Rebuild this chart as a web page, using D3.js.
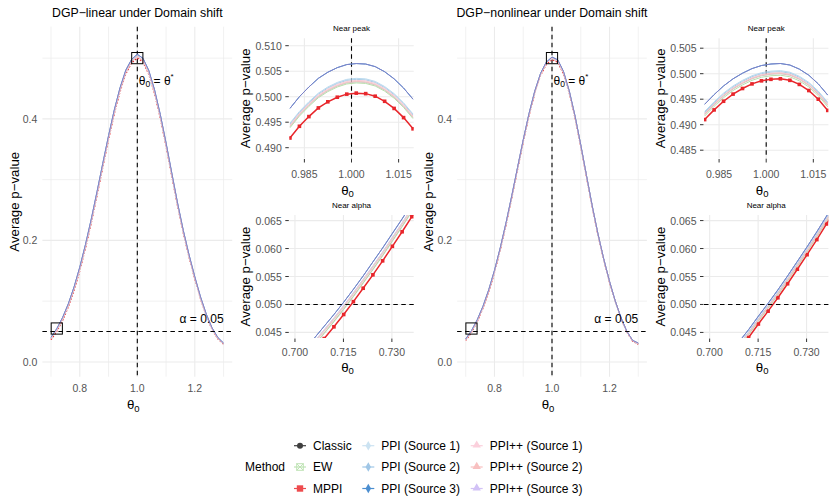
<!DOCTYPE html>
<html lang="en">
<head>
<meta charset="utf-8">
<title>average p-value under domain shift</title>
<script src="https://d3js.org/d3.v7.min.js"></script>
<style>
  body{margin:0;background:#fff;}
  svg text{font-family:"Liberation Sans",Arial,Helvetica,sans-serif;}
</style>
</head>
<body>
<div id="chart"></div>
<script>
// ---- data ----
var methods = ["Classic","EW","MPPI","PPI (Source 1)","PPI (Source 2)","PPI (Source 3)","PPI++ (Source 1)","PPI++ (Source 2)","PPI++ (Source 3)"]

// full range panels (theta0 grid, step 0.02)
var mainTheta = [0.70,0.72,0.74,0.76,0.78,0.80,0.82,0.84,0.86,0.88,0.90,0.92,0.94,0.96,0.98,1.00,1.02,1.04,1.06,1.08,1.10,1.12,1.14,1.16,1.18,1.20,1.22,1.24,1.26,1.28,1.30]
var linMainBundle = [0.0385,0.0525,0.0705,0.0930,0.1205,0.1530,0.1905,0.2320,0.2770,0.3235,0.3690,0.4115,0.4480,0.4770,0.4945,0.5030,0.4960,0.4760,0.4445,0.4040,0.3575,0.3080,0.2590,0.2140,0.1740,0.1380,0.1050,0.0770,0.0545,0.0390,0.0300]
var linMainTop    = [0.0405,0.0547,0.0728,0.0955,0.1232,0.1560,0.1937,0.2353,0.2803,0.3268,0.3722,0.4147,0.4512,0.4802,0.4977,0.5063,0.4995,0.4795,0.4478,0.4072,0.3605,0.3108,0.2616,0.2164,0.1762,0.1400,0.1068,0.0786,0.0559,0.0402,0.0310]
var linMainMPPI   = [0.0365,0.0503,0.0681,0.0905,0.1178,0.1502,0.1876,0.2290,0.2740,0.3205,0.3660,0.4085,0.4450,0.4740,0.4920,0.5004,0.4935,0.4735,0.4420,0.4015,0.3552,0.3058,0.2570,0.2122,0.1724,0.1366,0.1038,0.0760,0.0536,0.0382,0.0293]
var nonMainBundle = [0.0365,0.0500,0.0678,0.0900,0.1170,0.1490,0.1860,0.2270,0.2715,0.3180,0.3640,0.4070,0.4440,0.4730,0.4915,0.4995,0.4950,0.4760,0.4445,0.4035,0.3560,0.3055,0.2555,0.2095,0.1685,0.1320,0.0995,0.0720,0.0500,0.0350,0.0300]
var nonMainTop    = [0.0378,0.0514,0.0693,0.0916,0.1187,0.1508,0.1878,0.2288,0.2733,0.3197,0.3656,0.4086,0.4456,0.4746,0.4933,0.5017,0.4972,0.4780,0.4462,0.4050,0.3573,0.3067,0.2566,0.2105,0.1693,0.1328,0.1002,0.0727,0.0507,0.0356,0.0310]
var nonMainMPPI   = [0.0353,0.0487,0.0664,0.0885,0.1154,0.1473,0.1842,0.2252,0.2697,0.3162,0.3622,0.4052,0.4422,0.4712,0.4897,0.4977,0.4932,0.4742,0.4428,0.4020,0.3546,0.3042,0.2544,0.2086,0.1677,0.1313,0.0989,0.0715,0.0495,0.0344,0.0292]

// near peak (grid points between 0.98 and 1.02)
var peakTheta = [0.98040,0.98342,0.98643,0.98945,0.99246,0.99548,0.99849,1.00151,1.00452,1.00754,1.01055,1.01357,1.01658,1.01960]
var linPeakClassic = [0.4941,0.4964,0.4983,0.5000,0.5012,0.5021,0.5027,0.5029,0.5028,0.5023,0.5013,0.4999,0.4981,0.4959]
var linPeakEW      = [0.4939,0.4962,0.4981,0.4998,0.5010,0.5019,0.5025,0.5027,0.5026,0.5021,0.5011,0.4997,0.4979,0.4957]
var linPeakMPPI    = [0.4919,0.4942,0.4961,0.4978,0.4990,0.4999,0.5005,0.5007,0.5006,0.5001,0.4991,0.4977,0.4959,0.4937]
var linPeakPPI1    = [0.4948,0.4971,0.4990,0.5007,0.5019,0.5028,0.5034,0.5036,0.5035,0.5030,0.5020,0.5006,0.4988,0.4966]
var linPeakPPI2    = [0.4946,0.4969,0.4988,0.5005,0.5017,0.5026,0.5032,0.5034,0.5033,0.5028,0.5018,0.5004,0.4986,0.4964]
var linPeakPPI3    = [0.4977,0.5000,0.5019,0.5036,0.5048,0.5057,0.5063,0.5065,0.5064,0.5059,0.5049,0.5035,0.5017,0.4995]
var linPeakPP1     = [0.4944,0.4967,0.4986,0.5003,0.5015,0.5024,0.5030,0.5032,0.5031,0.5026,0.5016,0.5002,0.4984,0.4962]
var linPeakPP2     = [0.4942,0.4965,0.4984,0.5001,0.5013,0.5022,0.5028,0.5030,0.5029,0.5024,0.5014,0.5000,0.4982,0.4960]
var linPeakPP3     = [0.4977,0.5000,0.5019,0.5036,0.5048,0.5057,0.5063,0.5065,0.5064,0.5059,0.5049,0.5035,0.5017,0.4995]

var nonPeakClassic = [0.4920,0.4939,0.4956,0.4970,0.4981,0.4990,0.4996,0.4999,0.5000,0.4997,0.4989,0.4977,0.4960,0.4938]
var nonPeakEW      = [0.4917,0.4936,0.4953,0.4967,0.4978,0.4987,0.4993,0.4996,0.4997,0.4994,0.4986,0.4974,0.4957,0.4935]
var nonPeakMPPI    = [0.4910,0.4929,0.4946,0.4960,0.4971,0.4980,0.4986,0.4989,0.4990,0.4987,0.4979,0.4967,0.4950,0.4928]
var nonPeakPPI1    = [0.4926,0.4945,0.4962,0.4976,0.4987,0.4996,0.5002,0.5005,0.5006,0.5003,0.4995,0.4983,0.4966,0.4944]
var nonPeakPPI2    = [0.4924,0.4943,0.4960,0.4974,0.4985,0.4994,0.5000,0.5003,0.5004,0.5001,0.4993,0.4981,0.4964,0.4942]
var nonPeakPPI3    = [0.4940,0.4959,0.4976,0.4990,0.5001,0.5010,0.5016,0.5019,0.5020,0.5017,0.5009,0.4997,0.4980,0.4958]
var nonPeakPP1     = [0.4922,0.4941,0.4958,0.4972,0.4983,0.4992,0.4998,0.5001,0.5002,0.4999,0.4991,0.4979,0.4962,0.4940]
var nonPeakPP2     = [0.4921,0.4940,0.4957,0.4971,0.4982,0.4991,0.4997,0.5000,0.5001,0.4998,0.4990,0.4978,0.4961,0.4939]
var nonPeakPP3     = [0.4940,0.4959,0.4976,0.4990,0.5001,0.5010,0.5016,0.5019,0.5020,0.5017,0.5009,0.4997,0.4980,0.4958]

// near alpha (grid points between 0.70 and 0.74)
var alphaTheta = [0.70000,0.70302,0.70603,0.70905,0.71206,0.71508,0.71809,0.72111,0.72412,0.72714,0.73015,0.73317,0.73618,0.73920]
var linAlphaClassic = [0.0387,0.0407,0.0427,0.0448,0.0469,0.0491,0.0514,0.0538,0.0562,0.0587,0.0613,0.0639,0.0666,0.0693]
var linAlphaEW      = [0.0388,0.0408,0.0428,0.0449,0.0470,0.0492,0.0515,0.0539,0.0563,0.0588,0.0614,0.0640,0.0667,0.0694]
var linAlphaMPPI    = [0.0378,0.0398,0.0418,0.0439,0.0460,0.0482,0.0505,0.0529,0.0553,0.0578,0.0604,0.0630,0.0657,0.0684]
var linAlphaPPI1    = [0.0394,0.0414,0.0434,0.0455,0.0476,0.0498,0.0521,0.0545,0.0569,0.0594,0.0620,0.0646,0.0673,0.0700]
var linAlphaPPI2    = [0.0393,0.0413,0.0433,0.0454,0.0475,0.0497,0.0520,0.0544,0.0568,0.0593,0.0619,0.0645,0.0672,0.0699]
var linAlphaPPI3    = [0.0399,0.0419,0.0440,0.0461,0.0482,0.0504,0.0527,0.0551,0.0576,0.0601,0.0627,0.0653,0.0680,0.0708]
var linAlphaPP1     = [0.0393,0.0413,0.0433,0.0454,0.0475,0.0497,0.0520,0.0544,0.0568,0.0593,0.0619,0.0645,0.0672,0.0699]
var linAlphaPP2     = [0.0391,0.0411,0.0431,0.0452,0.0473,0.0495,0.0518,0.0542,0.0566,0.0591,0.0617,0.0643,0.0670,0.0697]
var linAlphaPP3     = [0.0399,0.0419,0.0440,0.0461,0.0482,0.0504,0.0527,0.0551,0.0576,0.0601,0.0627,0.0653,0.0680,0.0708]

var nonAlphaClassic = [0.0363,0.0383,0.0404,0.0425,0.0447,0.0471,0.0494,0.0518,0.0543,0.0569,0.0595,0.0622,0.0650,0.0678]
var nonAlphaEW      = [0.0362,0.0382,0.0403,0.0424,0.0446,0.0470,0.0493,0.0517,0.0542,0.0568,0.0594,0.0621,0.0649,0.0677]
var nonAlphaMPPI    = [0.0357,0.0377,0.0398,0.0419,0.0441,0.0465,0.0488,0.0512,0.0537,0.0563,0.0589,0.0616,0.0644,0.0672]
var nonAlphaPPI1    = [0.0367,0.0387,0.0408,0.0429,0.0451,0.0475,0.0498,0.0522,0.0547,0.0573,0.0599,0.0626,0.0654,0.0682]
var nonAlphaPPI2    = [0.0366,0.0386,0.0407,0.0428,0.0450,0.0474,0.0497,0.0521,0.0546,0.0572,0.0598,0.0625,0.0653,0.0681]
var nonAlphaPPI3    = [0.0371,0.0391,0.0412,0.0433,0.0455,0.0479,0.0502,0.0526,0.0551,0.0577,0.0603,0.0630,0.0658,0.0687]
var nonAlphaPP1     = [0.0365,0.0385,0.0406,0.0427,0.0449,0.0473,0.0496,0.0520,0.0545,0.0571,0.0597,0.0624,0.0652,0.0680]
var nonAlphaPP2     = [0.0364,0.0384,0.0405,0.0426,0.0448,0.0472,0.0495,0.0519,0.0544,0.0570,0.0596,0.0623,0.0651,0.0679]
var nonAlphaPP3     = [0.0371,0.0391,0.0412,0.0433,0.0455,0.0479,0.0502,0.0526,0.0551,0.0577,0.0603,0.0630,0.0658,0.0687]

// tick labels
var mainXTicks = [0.8,1.0,1.2], mainXMinor = [0.7,0.9,1.1,1.3]
var mainYTicks = [0.0,0.2,0.4], mainYMinor = [0.1,0.3,0.5]
var peakXTicks = [0.985,1.000,1.015]
var linPeakYTicks = [0.490,0.495,0.500,0.505,0.510]
var nonPeakYTicks = [0.485,0.490,0.495,0.500,0.505]
var alphaXTicks = [0.700,0.715,0.730]
var alphaYTicks = [0.045,0.050,0.055,0.060,0.065]

// ---- styles ----
var lineColor = {"Classic":"#c4c4c4","EW":"#b8deab","MPPI":"#e8262b","PPI (Source 1)":"#b9d9ef","PPI (Source 2)":"#a9cde6",
  "PPI (Source 3)":"#4a8fd0","PPI++ (Source 1)":"#f7c9d6","PPI++ (Source 2)":"#f2c4c4","PPI++ (Source 3)":"#7f83c8"}
var keyColor = {"Classic":"#3f3f3f","EW":"#bfe3b5","MPPI":"#ee4b4e","PPI (Source 1)":"#cce3f2","PPI (Source 2)":"#9fc6e6",
  "PPI (Source 3)":"#4b8ed0","PPI++ (Source 1)":"#fbd0dc","PPI++ (Source 2)":"#f8c0c0","PPI++ (Source 3)":"#d2c2f6"}
var keyShape = {"Classic":"circle","EW":"boxx","MPPI":"square","PPI (Source 1)":"diamond","PPI (Source 2)":"diamond",
  "PPI (Source 3)":"diamond","PPI++ (Source 1)":"triangle","PPI++ (Source 2)":"triangle","PPI++ (Source 3)":"triangle"}

var w = 834, h = 502
var svg = d3.select("#chart").append("svg").attr("width",w).attr("height",h)
var tickGray = "#555", gridCol = "#ebebeb"
var fmt1 = d3.format(".1f"), fmt3 = d3.format(".3f")

function series(a,b,c,d,e,f,g,hh,k){ return [a,b,c,d,e,f,g,hh,k] }

function drawPanel(p){
  var x = d3.scaleLinear().domain(p.xd).range([p.left,p.right])
  var y = d3.scaleLinear().domain(p.yd).range([p.bottom,p.top])
  var g = svg.append("g")

  // grid
  ;(p.xMinor||[]).forEach(function(v){
    g.append("line").attr("x1",x(v)).attr("x2",x(v)).attr("y1",p.top).attr("y2",p.bottom).attr("stroke",gridCol).attr("stroke-width",0.7)
  })
  ;(p.yMinor||[]).forEach(function(v){
    g.append("line").attr("x1",p.left).attr("x2",p.right).attr("y1",y(v)).attr("y2",y(v)).attr("stroke",gridCol).attr("stroke-width",0.7)
  })
  p.xTicks.forEach(function(v){
    g.append("line").attr("x1",x(v)).attr("x2",x(v)).attr("y1",p.top).attr("y2",p.bottom).attr("stroke",gridCol).attr("stroke-width",1.1)
  })
  p.yTicks.forEach(function(v){
    g.append("line").attr("x1",p.left).attr("x2",p.right).attr("y1",y(v)).attr("y2",y(v)).attr("stroke",gridCol).attr("stroke-width",1.1)
  })

  // tick labels + tick marks
  var fmt = p.fmt
  p.xTicks.forEach(function(v){
    g.append("text").attr("x",x(v)).attr("y",p.bottom + p.xLabOff).attr("text-anchor","middle")
      .attr("dominant-baseline","central").attr("font-size",10.5).attr("fill",tickGray).text(fmt(v))
    if(p.marks) g.append("line").attr("x1",x(v)).attr("x2",x(v)).attr("y1",p.bottom+0.5).attr("y2",p.bottom+4)
      .attr("stroke","#333").attr("stroke-width",1)
  })
  p.yTicks.forEach(function(v){
    g.append("text").attr("x",p.left - p.yLabOff).attr("y",y(v)).attr("text-anchor","end")
      .attr("dominant-baseline","central").attr("font-size",10.5).attr("fill",tickGray).text(fmt(v))
    if(p.marks) g.append("line").attr("x1",p.left-4).attr("x2",p.left-0.5).attr("y1",y(v)).attr("y2",y(v))
      .attr("stroke","#333").attr("stroke-width",1)
  })

  // reference lines
  if(p.vline!=null) g.append("line").attr("x1",x(p.vline)).attr("x2",x(p.vline)).attr("y1",p.top).attr("y2",p.bottom)
    .attr("stroke","#000").attr("stroke-width",1.1).attr("stroke-dasharray","4.5,3.5")

  // curves
  svg.append("clipPath").attr("id",p.id).append("rect")
    .attr("x",p.left).attr("y",p.top).attr("width",p.right-p.left).attr("height",p.bottom-p.top)
  var cg = g.append("g").attr("clip-path","url(#"+p.id+")")
  var line = d3.line().x(function(d,i){ return x(p.theta[i]) }).y(function(d){ return y(d) })
  methods.forEach(function(m,i){
    var vals = p.values[i]
    var isM = m=="MPPI"
    cg.append("path").datum(vals).attr("d",line).attr("fill","none")
      .attr("stroke",lineColor[m]).attr("stroke-width", isM ? (p.main?1.3:1.5) : 1.0)
      .attr("stroke-dasharray", isM && p.main ? "1.6,1.6" : null)
    if(isM && !p.main){
      cg.selectAll(".pt").data(vals).enter().append("rect")
        .attr("x",function(d,j){ return x(p.theta[j])-1.8 }).attr("y",function(d){ return y(d)-1.8 })
        .attr("width",3.6).attr("height",3.6).attr("fill",lineColor[m])
    }
  })

  if(p.hline!=null) g.append("line").attr("x1",p.left).attr("x2",p.right).attr("y1",y(p.hline)).attr("y2",y(p.hline))
    .attr("stroke","#000").attr("stroke-width",1.1).attr("stroke-dasharray","4.5,3.5")

  // titles
  var cx = (p.left+p.right)/2
  g.append("text").attr("x",cx).attr("y",p.titleY).attr("text-anchor","middle").attr("dominant-baseline","central")
    .attr("font-size",p.titleSize).attr("fill","#000").text(p.title)
  var xt = g.append("text").attr("x",cx-4).attr("y",p.xTitleY).attr("text-anchor","middle").attr("dominant-baseline","central")
    .attr("font-size",13.3).attr("fill","#000")
  xt.append("tspan").text("θ")
  xt.append("tspan").attr("dy",3.5).attr("font-size",9.5).text("0")
  g.append("text").attr("transform","translate("+p.yTitleX+","+((p.top+p.bottom)/2)+") rotate(-90)")
    .attr("text-anchor","middle").attr("dominant-baseline","central").attr("font-size",13.3).attr("fill","#000")
    .text("Average p\u2212value")

  return {x:x, y:y, g:g}
}

function mainPanel(dx, title, bundle, top, mppi, id){
  var vals = series(bundle,bundle,mppi,bundle,bundle,top,bundle,bundle,top)
  var r = drawPanel({id:id, main:true, left:42.4+dx, right:232.2+dx, top:26.7, bottom:376.7,
    xd:[0.67,1.33], yd:[-0.0243,0.5517], xTicks:mainXTicks, xMinor:mainXMinor, yTicks:mainYTicks, yMinor:mainYMinor,
    fmt:fmt1, marks:false, xLabOff:11.5, yLabOff:5, theta:mainTheta, values:vals, vline:1.0, hline:0.05,
    title:title, titleSize:12.3, titleY:12.8, xTitleY:404, yTitleX:14+dx})
  var x = r.x, y = r.y, g = r.g
  // boxes at the peak and at the alpha crossing
  var boxes = [[1.0,0.5],[0.72,0.055]]
  boxes.forEach(function(b){
    g.append("rect").attr("x",x(b[0])-5.6).attr("y",y(b[1])-5.6).attr("width",11.2).attr("height",11.2)
      .attr("fill","none").attr("stroke","#000").attr("stroke-width",1)
  })
  var t = g.append("text").attr("x",x(1.0)+1.5).attr("y",y(0.463)).attr("dominant-baseline","central")
    .attr("font-size",12).attr("fill","#000")
  t.append("tspan").text("θ")
  t.append("tspan").attr("dy",3).attr("font-size",8.5).text("0")
  t.append("tspan").attr("dy",-3).text(" = θ")
  t.append("tspan").attr("dy",-5).attr("font-size",8).text("*")
  g.append("text").attr("x",x(1.3)).attr("y",y(0.071)).attr("text-anchor","end").attr("dominant-baseline","central")
    .attr("font-size",12).attr("fill","#000").text("α = 0.05")
}

function peakPanel(dx, yd, yTicks, vals, id){
  drawPanel({id:id, left:289.3+dx, right:413.7+dx, top:38.3, bottom:158.5,
    xd:[0.9802,1.0198], yd:yd, xTicks:peakXTicks, yTicks:yTicks, fmt:fmt3, marks:true, xLabOff:15.5, yLabOff:7.5,
    theta:peakTheta, values:vals, vline:1.0, hline:null,
    title:"Near peak", titleSize:8, titleY:28.3, xTitleY:189.5, yTitleX:245.7+dx})
}

function alphaPanel(dx, vals, id){
  drawPanel({id:id, left:289.3+dx, right:413.7+dx, top:215, bottom:338,
    xd:[0.69825,0.73675], yd:[0.044,0.066], xTicks:alphaXTicks, yTicks:alphaYTicks, fmt:fmt3, marks:true, xLabOff:13.5, yLabOff:7.5,
    theta:alphaTheta, values:vals, vline:null, hline:0.05,
    title:"Near alpha", titleSize:8, titleY:205.7, xTitleY:366.5, yTitleX:245.7+dx})
}

var dxR = 414.7
mainPanel(0, "DGP\u2212linear under Domain shift", linMainBundle, linMainTop, linMainMPPI, "c1")
mainPanel(dxR, "DGP\u2212nonlinear under Domain shift", nonMainBundle, nonMainTop, nonMainMPPI, "c2")
peakPanel(0, [0.5 - 61.8/5100, 0.5 + 58.4/5100], linPeakYTicks,
  series(linPeakClassic,linPeakEW,linPeakMPPI,linPeakPPI1,linPeakPPI2,linPeakPPI3,linPeakPP1,linPeakPP2,linPeakPP3), "c3")
peakPanel(dxR, [0.5 - 84.8/5100, 0.5 + 35.4/5100], nonPeakYTicks,
  series(nonPeakClassic,nonPeakEW,nonPeakMPPI,nonPeakPPI1,nonPeakPPI2,nonPeakPPI3,nonPeakPP1,nonPeakPP2,nonPeakPP3), "c4")
alphaPanel(0, series(linAlphaClassic,linAlphaEW,linAlphaMPPI,linAlphaPPI1,linAlphaPPI2,linAlphaPPI3,linAlphaPP1,linAlphaPP2,linAlphaPP3), "c5")
alphaPanel(dxR, series(nonAlphaClassic,nonAlphaEW,nonAlphaMPPI,nonAlphaPPI1,nonAlphaPPI2,nonAlphaPPI3,nonAlphaPP1,nonAlphaPP2,nonAlphaPP3), "c6")

// ---- legend ----
var leg = svg.append("g")
leg.append("text").attr("x",245).attr("y",466.5).attr("dominant-baseline","central").attr("font-size",12).attr("fill","#000").text("Method")
var colX = [300, 368.3, 476.7], rowY = [445.7, 467, 488.5]
methods.forEach(function(m,i){
  var cx = colX[Math.floor(i/3)], cy = rowY[i%3], c = keyColor[m]
  leg.append("line").attr("x1",cx-6).attr("x2",cx+6).attr("y1",cy).attr("y2",cy).attr("stroke",c).attr("stroke-width",1.2)
  var s = keyShape[m]
  if(s=="circle") leg.append("circle").attr("cx",cx).attr("cy",cy).attr("r",3).attr("fill",c)
  if(s=="square") leg.append("rect").attr("x",cx-3.2).attr("y",cy-3.2).attr("width",6.4).attr("height",6.4).attr("fill",c)
  if(s=="boxx"){
    leg.append("rect").attr("x",cx-3.3).attr("y",cy-3.3).attr("width",6.6).attr("height",6.6).attr("fill","none").attr("stroke",c).attr("stroke-width",1)
    leg.append("path").attr("d","M"+(cx-3.3)+","+(cy-3.3)+"L"+(cx+3.3)+","+(cy+3.3)+"M"+(cx+3.3)+","+(cy-3.3)+"L"+(cx-3.3)+","+(cy+3.3))
      .attr("stroke",c).attr("stroke-width",1)
  }
  if(s=="diamond") leg.append("path").attr("d",d3.symbol(d3.symbolDiamond,26)()).attr("transform","translate("+cx+","+cy+")").attr("fill",c)
  if(s=="triangle") leg.append("path").attr("d",d3.symbol(d3.symbolTriangle,30)()).attr("transform","translate("+cx+","+(cy-0.5)+")").attr("fill",c)
  leg.append("text").attr("x",cx+13).attr("y",cy).attr("dominant-baseline","central").attr("font-size",12).attr("fill","#000").text(m)
})
</script>
</body>
</html>
